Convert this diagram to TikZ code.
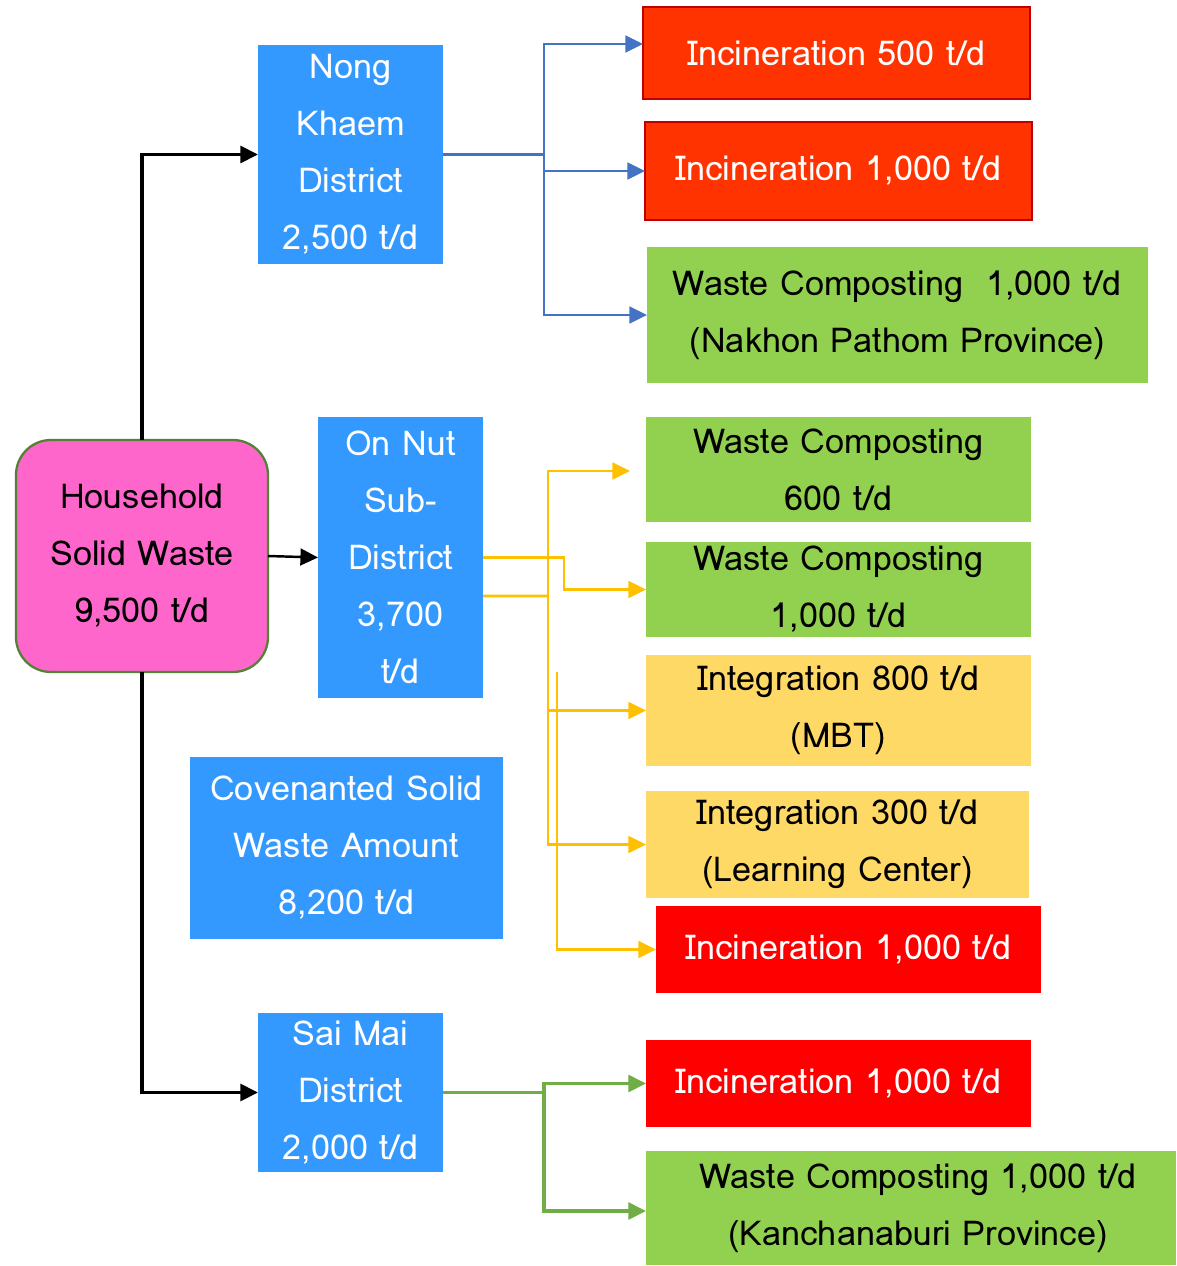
\documentclass[tikz,border=0pt]{standalone}
\usepackage{fontspec}
\setmainfont{Loma}
\usetikzlibrary{arrows.meta,calc}
\definecolor{boxblue}{HTML}{3399FF}
\definecolor{boxpink}{HTML}{FF66CC}
\definecolor{pinkedge}{HTML}{538135}
\definecolor{boxgreen}{HTML}{92D050}
\definecolor{boxyellow}{HTML}{FFD966}
\definecolor{boxorange}{HTML}{FF3300}
\definecolor{boxred}{HTML}{FF0000}
\definecolor{darkred}{HTML}{C00000}
\definecolor{lineblue}{HTML}{4472C4}
\definecolor{lineyellow}{HTML}{FFC000}
\definecolor{linegreen}{HTML}{70AD47}
\newcommand\bx[7]{\node[#6, minimum width={(#4-#2)*0.02cm}, minimum height={(#5-#3)*0.02cm}, anchor=north west] (#1) at (#2,#3) {#7};}
\begin{document}
\begin{tikzpicture}[x=0.02cm,y=-0.02cm,
  base/.style={inner sep=0pt, outer sep=0pt, align=center, font=\fontsize{19.5}{32.5}\selectfont},
  bluebox/.style={base, fill=boxblue, text=white},
  pinkbox/.style={base, fill=boxpink, draw=pinkedge, line width=1.3pt, rounded corners=0.7cm, text=black},
  greenbox/.style={base, fill=boxgreen, text=black},
  yellowbox/.style={base, fill=boxyellow, text=black},
  orangebox/.style={base, fill=boxorange, draw=darkred, line width=1.2pt, text=white},
  redbox/.style={base, fill=boxred, text=white},
  tip/.style={-{Triangle[length=10pt,width=9.5pt]}},
  blk/.style={black, line width=2.1pt, tip},
  blkthin/.style={black, line width=1.4pt, tip},
  bl/.style={lineblue, line width=1.5pt},
  yl/.style={lineyellow, line width=1.5pt},
  gl/.style={linegreen, line width=2pt},
]
\useasboundingbox (0,0) rectangle (1176,1266);

\bx{hh}{16}{440}{268}{672}{pinkbox}{Household\\Solid Waste\\9,500 t/d}
\bx{nk}{258}{45}{443}{264}{bluebox}{Nong\\Khaem\\District\\2,500 t/d}
\bx{on}{318}{417}{483}{698}{bluebox}{On Nut\\Sub-\\District\\3,700\\t/d}
\bx{cv}{190}{757}{503}{939}{bluebox}{Covenanted Solid\\Waste Amount\\8,200 t/d}
\bx{sm}{258}{1013}{443}{1172}{bluebox}{Sai Mai\\District\\2,000 t/d}

\bx{ia}{643}{7}{1030}{99}{orangebox}{Incineration 500 t/d}
\bx{ib}{645}{122}{1032}{220}{orangebox}{Incineration 1,000 t/d}
\bx{wn}{647}{247}{1148}{383}{greenbox}{Waste Composting\ \ 1,000 t/d\\(Nakhon Pathom Province)}
\bx{wa}{646}{417}{1031}{522}{greenbox}{Waste Composting\\600 t/d}
\bx{wb}{646}{542}{1031}{637}{greenbox}{Waste Composting\\1,000 t/d}
\bx{ga}{646}{655}{1031}{766}{yellowbox}{Integration 800 t/d\\(MBT)}
\bx{gb}{646}{791}{1029}{898}{yellowbox}{Integration 300 t/d\\(Learning Center)}
\bx{ic}{656}{906}{1041}{993}{redbox}{Incineration 1,000 t/d}
\bx{id}{646}{1040}{1031}{1127}{redbox}{Incineration 1,000 t/d}
\bx{wk}{646}{1151}{1176}{1265}{greenbox}{\hspace*{0.28cm}Waste Composting 1,000 t/d\\\hspace*{0.28cm}(Kanchanaburi Province)}

% black connectors
\draw[blk] (hh.north) |- (nk.west);
\draw[blk] (hh.south) |- (sm.west);
\draw[blkthin] (hh.east) -- (on.west);

% blue connectors
\coordinate (bj) at (544,154.5);
\draw[bl] (nk.east) -- (bj);
\draw[bl,tip] (bj) |- ($(ia.west)+(0,-9)$);
\draw[bl,tip] (bj) |- (ib.west);
\draw[bl,tip] (bj) |- (wn.west);

% yellow connectors
\draw[yl,tip] (on.east) -- ++(81,0) |- (wb.west);
\coordinate (yj) at (548,596);
\coordinate (yt) at (630,471);
\coordinate (yk) at (557,672);
\draw[yl] ($(on.east)+(0,38.5)$) -- (yj);
\draw[yl,tip] (yj) |- (yt);
\draw[yl,tip] (yj) |- (ga.west);
\draw[yl,tip] (yj) |- (gb.west);
\draw[yl,tip] (yk) |- (ic.west);

% green connectors
\coordinate (gj) at (544,1092.5);
\draw[gl] (sm.east) -- (gj);
\draw[gl,tip] (gj) |- (id.west);
\draw[gl,tip] (gj) |- ($(wk.west)+(0,3)$);
\end{tikzpicture}
\end{document}
